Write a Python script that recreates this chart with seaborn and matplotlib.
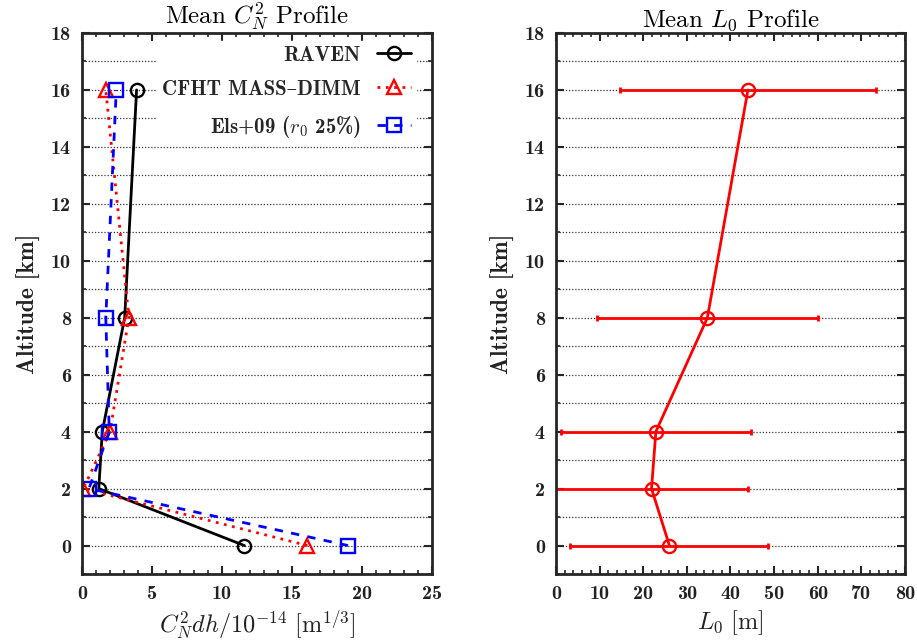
import numpy as np
import pandas as pd
import matplotlib
matplotlib.use("Agg")
import matplotlib.pyplot as plt
import seaborn as sns
from matplotlib.ticker import MultipleLocator
from matplotlib.lines import Line2D

# altitude layers [km]
altitude = [0, 2, 4, 8, 16]

# C_N^2 dh / 1e-14 [m^1/3]
raven_cn2 = [11.6, 1.2, 1.45, 3.05, 3.9]
cfht_cn2 = [16.1, 0.1, 2.0, 3.35, 1.7]
els_cn2 = [19.0, 0.5, 1.95, 1.7, 2.45]

# outer scale L0 [m] and its spread
l0_mean = [26.0, 21.9, 22.9, 34.7, 44.0]
l0_err = [22.7, 22.2, 21.8, 25.3, 29.3]

labels = ["RAVEN", "CFHT MASS\u2013DIMM", r"Els+09 ($r_0$ 25%)"]

sns.set_style("ticks")
plt.rcParams["mathtext.fontset"] = "cm"
plt.rcParams["font.family"] = ["cmb10", "DejaVu Serif"]
plt.rcParams["axes.unicode_minus"] = False

df = pd.DataFrame({"alt": altitude, "raven": raven_cn2, "cfht": cfht_cn2, "els": els_cn2,
                   "l0": l0_mean, "l0err": l0_err})

fig = plt.figure(figsize=(9.17, 6.41), dpi=100)
ax1 = fig.add_axes([0.0894, 0.1045, 0.3817, 0.844])
ax2 = fig.add_axes([0.6063, 0.1045, 0.3806, 0.844])

mk = dict(markerfacecolor="none", markersize=9.5, markeredgewidth=1.7)
sns.lineplot(data=df, x="raven", y="alt", sort=False, ax=ax1, color="black",
             lw=2, marker="o", markeredgecolor="black", **mk)
sns.lineplot(data=df, x="cfht", y="alt", sort=False, ax=ax1, color="red",
             lw=2, ls=(0, (1, 2)), marker="^", markeredgecolor="red", **mk)
sns.lineplot(data=df, x="els", y="alt", sort=False, ax=ax1, color="blue",
             lw=2, ls=(0, (3, 3)), marker="s", markeredgecolor="blue", **mk)

handles = [
    Line2D([], [], color="black", lw=2, marker="o", markeredgecolor="black", **mk),
    Line2D([], [], color="red", lw=2, ls=(0, (1, 2)), marker="^", markeredgecolor="red", **mk),
    Line2D([], [], color="blue", lw=2, ls=(0, (3, 3)), marker="s", markeredgecolor="blue", **mk),
]
leg = ax1.legend(handles, labels, loc="upper right", bbox_to_anchor=(0.96, 0.99),
                 markerfirst=False, frameon=True, fancybox=False, framealpha=1,
                 edgecolor="white", fontsize=15, handlelength=1.6, borderaxespad=0.1,
                 borderpad=0.25, labelspacing=0.72, handletextpad=0.8)
leg.set_zorder(5)

ax2.errorbar(df["l0"], df["alt"], xerr=df["l0err"], fmt="none", ecolor="red",
             elinewidth=2, capsize=2.5, capthick=2)
sns.lineplot(data=df, x="l0", y="alt", sort=False, ax=ax2, color="red", lw=2,
             marker="o", markeredgecolor="red", **mk)

ax1.set_xlim(0, 25)
ax2.set_xlim(0, 80)
ax1.xaxis.set_major_locator(MultipleLocator(5))
ax1.xaxis.set_minor_locator(MultipleLocator(1))
ax2.xaxis.set_major_locator(MultipleLocator(10))
ax2.xaxis.set_minor_locator(MultipleLocator(2))

for ax in (ax1, ax2):
    ax.set_ylim(-1, 18)
    ax.yaxis.set_major_locator(MultipleLocator(2))
    ax.yaxis.set_minor_locator(MultipleLocator(1))
    for y in range(0, 18):
        ax.axhline(y, color="#333333", lw=0.9, ls=(0, (1, 1.5)), zorder=0)
    ax.tick_params(which="both", direction="in", top=True, right=True,
                   labelsize=14.5, labelfontfamily="cmb10", labelcolor="#222222", pad=8)
    ax.tick_params(which="major", length=6, width=1.5)
    ax.tick_params(which="minor", length=3, width=1.2)
    for s in ax.spines.values():
        s.set_linewidth(2)
        s.set_visible(True)
    ax.set_ylabel("Altitude [km]", fontsize=17, labelpad=7, color="#222222")

ax1.set_xlabel(r"$C_N^2 dh/10^{-14}\ [\mathrm{m}^{1/3}]$", fontsize=17.5, color="#222222")
ax2.set_xlabel(r"$L_0\ [\mathrm{m}]$", fontsize=17.5, color="#222222")
ax1.set_title(r"Mean $C_N^2$ Profile", fontsize=18, fontfamily="cmr10", pad=4, color="#000000")
ax2.set_title(r"Mean $L_0$ Profile", fontsize=18, fontfamily="cmr10", pad=4, color="#000000")

fig.savefig("out.png", dpi=100)
